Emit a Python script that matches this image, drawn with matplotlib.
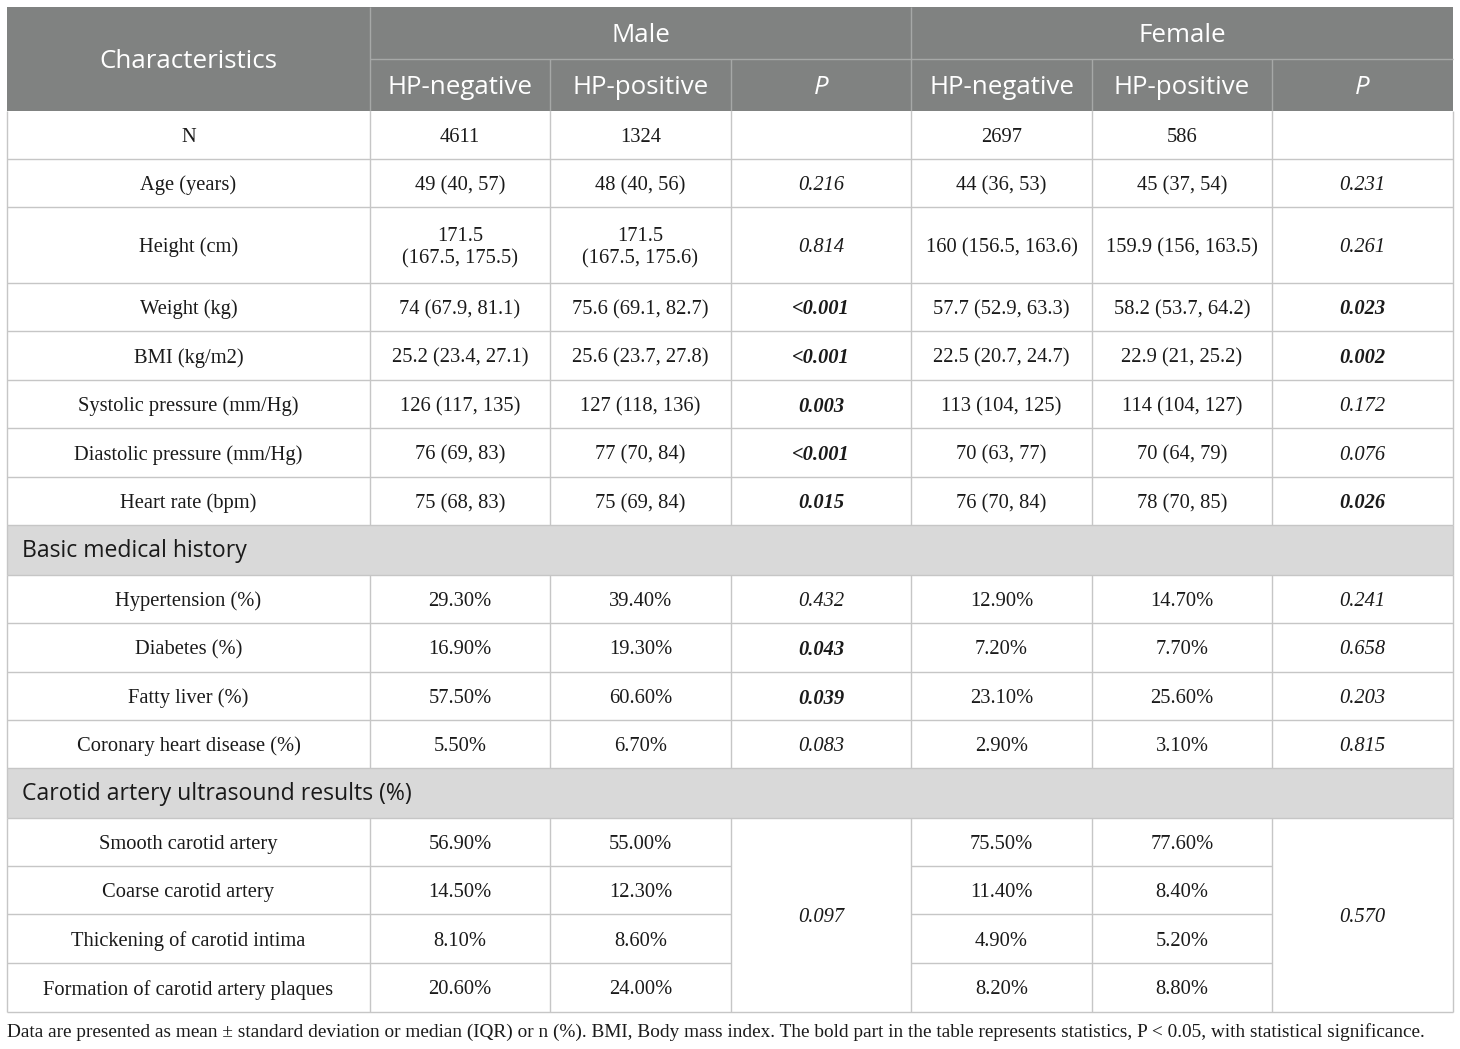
import matplotlib
matplotlib.use("Agg")
import matplotlib.pyplot as plt
from matplotlib.patches import Rectangle

# ---------------- data ----------------
group_labels = ["Male", "Female"]
sub_labels = ["HP-negative", "HP-positive", "P"]
row_labels = ["N", "Age (years)", "Height (cm)", "Weight (kg)", "BMI (kg/m2)",
              "Systolic pressure (mm/Hg)", "Diastolic pressure (mm/Hg)", "Heart rate (bpm)"]
male_neg = ["4611", "49 (40, 57)", "171.5\n(167.5, 175.5)", "74 (67.9, 81.1)", "25.2 (23.4, 27.1)",
            "126 (117, 135)", "76 (69, 83)", "75 (68, 83)"]
male_pos = ["1324", "48 (40, 56)", "171.5\n(167.5, 175.6)", "75.6 (69.1, 82.7)", "25.6 (23.7, 27.8)",
            "127 (118, 136)", "77 (70, 84)", "75 (69, 84)"]
male_p = ["", "0.216", "0.814", "<0.001", "<0.001", "0.003", "<0.001", "0.015"]
fem_neg = ["2697", "44 (36, 53)", "160 (156.5, 163.6)", "57.7 (52.9, 63.3)", "22.5 (20.7, 24.7)",
           "113 (104, 125)", "70 (63, 77)", "76 (70, 84)"]
fem_pos = ["586", "45 (37, 54)", "159.9 (156, 163.5)", "58.2 (53.7, 64.2)", "22.9 (21, 25.2)",
           "114 (104, 127)", "70 (64, 79)", "78 (70, 85)"]
fem_p = ["", "0.231", "0.261", "0.023", "0.002", "0.172", "0.076", "0.026"]

section2 = "Basic medical history"
hist_labels = ["Hypertension (%)", "Diabetes (%)", "Fatty liver (%)", "Coronary heart disease (%)"]
hist_male_neg = ["29.30%", "16.90%", "57.50%", "5.50%"]
hist_male_pos = ["39.40%", "19.30%", "60.60%", "6.70%"]
hist_male_p = ["0.432", "0.043", "0.039", "0.083"]
hist_fem_neg = ["12.90%", "7.20%", "23.10%", "2.90%"]
hist_fem_pos = ["14.70%", "7.70%", "25.60%", "3.10%"]
hist_fem_p = ["0.241", "0.658", "0.203", "0.815"]

section3 = "Carotid artery ultrasound results (%)"
car_labels = ["Smooth carotid artery", "Coarse carotid artery", "Thickening of carotid intima",
              "Formation of carotid artery plaques"]
car_male_neg = ["56.90%", "14.50%", "8.10%", "20.60%"]
car_male_pos = ["55.00%", "12.30%", "8.60%", "24.00%"]
car_male_p = "0.097"
car_fem_neg = ["75.50%", "11.40%", "4.90%", "8.20%"]
car_fem_pos = ["77.60%", "8.40%", "5.20%", "8.80%"]
car_fem_p = "0.570"

footnote = ("Data are presented as mean \u00b1 standard deviation or median (IQR) or n (%). "
            "BMI, Body mass index. The bold part in the table represents statistics, "
            "P < 0.05, with statistical significance.")

# ---------------- layout ----------------
W, H = 1460, 1049
col_x = [7, 370, 550, 731, 911, 1092, 1272, 1453]
hdr_y = [7, 59, 111]
row_h_main = [48, 48, 76, 48, 49, 48, 49, 48]
sec_h = 50
row_h_hist = [48, 49, 48, 48]
row_h_car = [48, 48, 49, 49]

HDR_BG = "#808281"
SEC_BG = "#d9d9d9"
GRID = "#c6c6c6"
TXT = "#1a1a1a"
SERIF = ["Liberation Serif", "DejaVu Serif"]
SANS = ["Open Sans", "Noto Sans", "DejaVu Sans"]
FS = 14.8
HFS = 18.6
SFS = 16.6
FNS = 13.9
BOFF = 2.5

fig = plt.figure(figsize=(W / 100, H / 100), dpi=100)
ax = fig.add_axes([0, 0, 1, 1])
ax.set_xlim(0, W)
ax.set_ylim(H, 0)
ax.axis("off")

def hline(y, x0, x1, c=GRID, lw=1.0):
    ax.plot([x0, x1], [y, y], color=c, lw=lw, solid_capstyle="butt")

def vline(x, y0, y1, c=GRID, lw=1.0):
    ax.plot([x, x], [y0, y1], color=c, lw=lw, solid_capstyle="butt")

def ctext(x, y, s, bold=False, italic=False, fam=SERIF, fs=FS, color=TXT, ha="center"):
    ax.text(x, y, s, ha=ha, va="center", fontsize=fs, family=fam, color=color,
            fontweight="bold" if bold else "normal",
            fontstyle="italic" if italic else "normal", linespacing=1.22)

def cx(i):
    return (col_x[i] + col_x[i + 1]) / 2

# header
ax.add_patch(Rectangle((col_x[0], hdr_y[0]), col_x[-1] - col_x[0], hdr_y[2] - hdr_y[0],
                       facecolor=HDR_BG, edgecolor="none"))
HL = "#a6a8a7"
hline(hdr_y[1], col_x[1], col_x[-1], c=HL)
for i in [1, 4]:
    vline(col_x[i], hdr_y[0], hdr_y[2], c=HL)
for i in [2, 3, 5, 6]:
    vline(col_x[i], hdr_y[1], hdr_y[2], c=HL)
HOFF = 2
ctext(cx(0), (hdr_y[0] + hdr_y[2]) / 2 + HOFF, "Characteristics", fam=SANS, fs=HFS, color="white")
ctext((col_x[1] + col_x[4]) / 2, (hdr_y[0] + hdr_y[1]) / 2 + HOFF, group_labels[0], fam=SANS, fs=HFS, color="white")
ctext((col_x[4] + col_x[7]) / 2, (hdr_y[0] + hdr_y[1]) / 2 + HOFF, group_labels[1], fam=SANS, fs=HFS, color="white")
for g in range(2):
    for k, lab in enumerate(sub_labels):
        ctext(cx(1 + 3 * g + k), (hdr_y[1] + hdr_y[2]) / 2 + HOFF, lab, fam=SANS, fs=HFS,
              color="white", italic=(lab == "P"))

def is_sig(p):
    if not p:
        return False
    if p.startswith("<"):
        return True
    return float(p) < 0.05

def draw_rows(y, heights, labels, cols, merged_p=None):
    y_top = y
    for r, h in enumerate(heights):
        yc = y + h / 2 + BOFF
        ctext(cx(0), yc, labels[r])
        for ci, colvals in enumerate(cols):
            idx = ci + 1
            if colvals is None:
                continue
            v = colvals[r]
            if idx in (3, 6):
                ctext(cx(idx), yc, v, italic=True, bold=is_sig(v))
            else:
                ctext(cx(idx), yc, v)
        y += h
        if merged_p is not None and r < len(heights) - 1:
            for seg in [(0, 3), (4, 6)]:
                hline(y, col_x[seg[0]], col_x[seg[1]])
        else:
            hline(y, col_x[0], col_x[-1])
    for i in range(len(col_x)):
        vline(col_x[i], y_top, y)
    if merged_p is not None:
        ym = (y_top + y) / 2 + BOFF
        ctext(cx(3), ym, merged_p[0], italic=True, bold=is_sig(merged_p[0]))
        ctext(cx(6), ym, merged_p[1], italic=True, bold=is_sig(merged_p[1]))
    return y

def draw_section(y, label):
    ax.add_patch(Rectangle((col_x[0], y), col_x[-1] - col_x[0], sec_h,
                           facecolor=SEC_BG, edgecolor="none"))
    vline(col_x[0], y, y + sec_h)
    vline(col_x[-1], y, y + sec_h)
    ctext(col_x[0] + 15, y + sec_h / 2 + 1, label, fam=SANS, fs=SFS, ha="left")
    hline(y + sec_h, col_x[0], col_x[-1])
    return y + sec_h

y = hdr_y[2]
y = draw_rows(y, row_h_main, row_labels, [male_neg, male_pos, male_p, fem_neg, fem_pos, fem_p])
y = draw_section(y, section2)
y = draw_rows(y, row_h_hist, hist_labels,
              [hist_male_neg, hist_male_pos, hist_male_p, hist_fem_neg, hist_fem_pos, hist_fem_p])
y = draw_section(y, section3)
y = draw_rows(y, row_h_car, car_labels,
              [car_male_neg, car_male_pos, None, car_fem_neg, car_fem_pos, None],
              merged_p=(car_male_p, car_fem_p))

ax.text(col_x[0], y + 20, footnote, ha="left", va="center", fontsize=FNS,
        family=SERIF, color=TXT)

fig.savefig("out.png", dpi=100)
